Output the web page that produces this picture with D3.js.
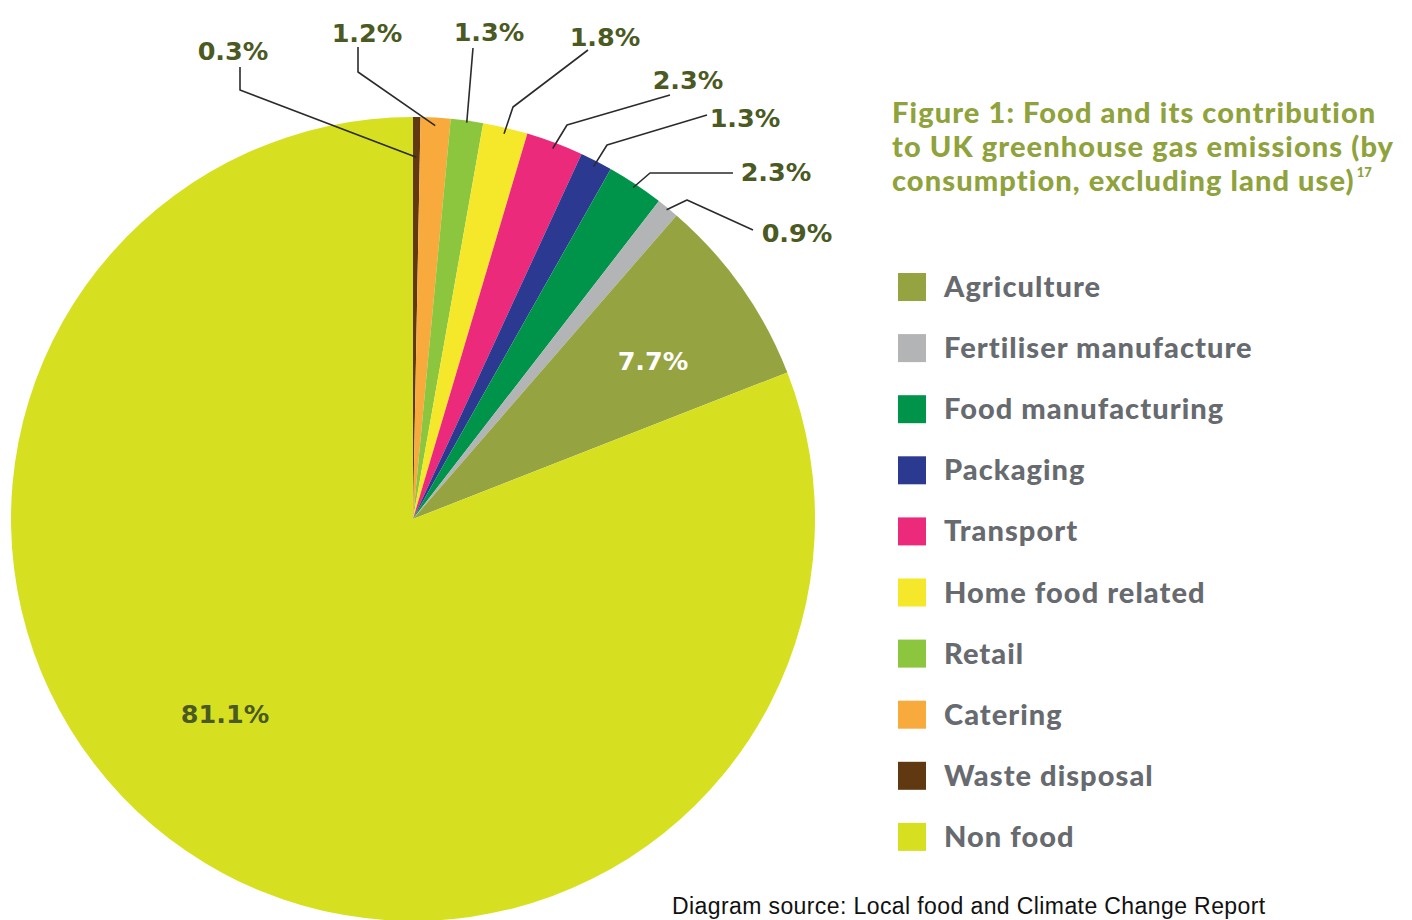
<!DOCTYPE html>
<html>
<head>
<meta charset="utf-8">
<script src="https://cdn.jsdelivr.net/npm/d3@7"></script>
<style>
  html, body { margin: 0; padding: 0; background: #fff; overflow: hidden; }
  svg { display: block; }
</style>
</head>
<body>
<svg id="chart" width="1412" height="920"></svg>
<script>
// ---- data ----
const categories = ["Agriculture", "Fertiliser manufacture", "Food manufacturing", "Packaging",
  "Transport", "Home food related", "Retail", "Catering", "Waste disposal", "Non food"];
const values = [7.7, 0.9, 2.3, 1.3, 2.3, 1.8, 1.3, 1.2, 0.3, 81.1];
const colors = ["#95a441", "#b3b4b6", "#00944a", "#2b3990", "#ec2a7b", "#f5e82a", "#8cc63f",
  "#f9aa3c", "#603913", "#d6e021"];
// order of slices clockwise from 12 o'clock
const pieOrder = ["Waste disposal", "Catering", "Retail", "Home food related", "Transport",
  "Packaging", "Food manufacturing", "Fertiliser manufacture", "Agriculture", "Non food"];
const titleLines = ["Figure 1: Food and its contribution", "to UK greenhouse gas emissions (by",
  "consumption, excluding land use)"];
const titleSup = "17";
const sourceText = "Diagram source: Local food and Climate Change Report";

// ---- layout (label placement, not data) ----
const cx = 413, cy = 519, R = 402;
const outerLabels = {
  "Waste disposal":         {lx: 233, ly: 60,  pts: [[240, 67], [240, 90]],  rf: 0.90},
  "Catering":               {lx: 367, ly: 42,  pts: [[358, 47], [358, 72]],  rf: 0.98},
  "Retail":                 {lx: 489, ly: 41,  pts: [[473, 48]],             rf: 0.995},
  "Home food related":      {lx: 605, ly: 46,  pts: [[588, 50], [513, 107]], rf: 0.985},
  "Transport":              {lx: 688, ly: 89,  pts: [[670, 95], [567, 125]], rf: 0.985},
  "Packaging":              {lx: 745, ly: 127, pts: [[707, 115], [607, 145]], rf: 0.985},
  "Food manufacturing":     {lx: 776, ly: 181, pts: [[733, 173], [650, 173]], rf: 0.99},
  "Fertiliser manufacture": {lx: 797, ly: 242, pts: [[753, 230], [687, 200]], rf: 0.995}
};
const innerLabels = {
  "Agriculture": {lx: 653, ly: 370, fill: "#ffffff"},
  "Non food":    {lx: 225, ly: 723, fill: "#4a5a22"}
};

const svg = d3.select("#chart");
const color = d3.scaleOrdinal().domain(categories).range(colors);
const valueOf = new Map(categories.map((c, i) => [c, values[i]]));
const pieData = pieOrder.map(c => ({name: c, value: valueOf.get(c)}));

const pie = d3.pie().sort(null).value(d => d.value);
const arcs = pie(pieData);
const arc = d3.arc().innerRadius(0).outerRadius(R);

const g = svg.append("g").attr("transform", `translate(${cx},${cy})`);
g.selectAll("path.slice").data(arcs).join("path")
  .attr("class", "slice")
  .attr("d", arc)
  .attr("fill", d => color(d.data.name));

const fmt = v => v.toFixed(1) + "%";
const labelFont = "'DejaVu Sans', sans-serif";

// leader lines + outer labels
arcs.forEach(a => {
  const L = outerLabels[a.data.name];
  if (!L) return;
  const mid = (a.startAngle + a.endAngle) / 2;
  const r = R * L.rf;
  const ex = cx + r * Math.sin(mid), ey = cy - r * Math.cos(mid);
  const pts = L.pts.concat([[ex, ey]]);
  svg.append("path")
    .attr("d", d3.line()(pts))
    .attr("fill", "none")
    .attr("stroke", "#2b2b2b")
    .attr("stroke-width", 1.6)
    .attr("stroke-linejoin", "round");
  svg.append("text")
    .attr("x", L.lx).attr("y", L.ly)
    .attr("text-anchor", "middle")
    .attr("font-family", labelFont)
    .attr("font-weight", "bold")
    .attr("font-size", 25.5)
    .attr("fill", "#4a5a22")
    .text(fmt(a.data.value));
});
arcs.forEach(a => {
  const L = innerLabels[a.data.name];
  if (!L) return;
  svg.append("text")
    .attr("x", L.lx).attr("y", L.ly)
    .attr("text-anchor", "middle")
    .attr("font-family", labelFont)
    .attr("font-weight", "bold")
    .attr("font-size", 25.5)
    .attr("fill", L.fill)
    .text(fmt(a.data.value));
});

// title
const titleFont = "Lato, 'Open Sans', sans-serif";
const tg = svg.append("g");
titleLines.forEach((t, i) => {
  const txt = tg.append("text")
    .attr("x", 892).attr("y", 123 + i * 34)
    .attr("font-family", titleFont)
    .attr("font-weight", "900")
    .attr("font-size", 29)
    .attr("letter-spacing", 1.1)
    .attr("fill", "#8fa23c")
    .text(t);
  if (i === titleLines.length - 1) {
    txt.append("tspan").attr("dy", -14).attr("font-size", 13).attr("dx", 2)
      .attr("letter-spacing", 0).text(titleSup);
  }
});

// legend
const lg = svg.append("g");
categories.forEach((c, i) => {
  const y = 287 + i * 61.1;
  lg.append("rect")
    .attr("x", 898).attr("y", y - 14)
    .attr("width", 28).attr("height", 28)
    .attr("fill", color(c));
  lg.append("text")
    .attr("x", 944).attr("y", y + 10)
    .attr("font-family", titleFont)
    .attr("font-weight", "900")
    .attr("font-size", 29)
    .attr("letter-spacing", 1.05)
    .attr("fill", "#676a6f")
    .text(c);
});

// source
svg.append("text")
  .attr("x", 672).attr("y", 914)
  .attr("font-family", "'Liberation Sans', Arial, sans-serif")
  .attr("font-size", 23)
  .attr("letter-spacing", 0.4)
  .attr("fill", "#111")
  .text(sourceText);
</script>
</body>
</html>
